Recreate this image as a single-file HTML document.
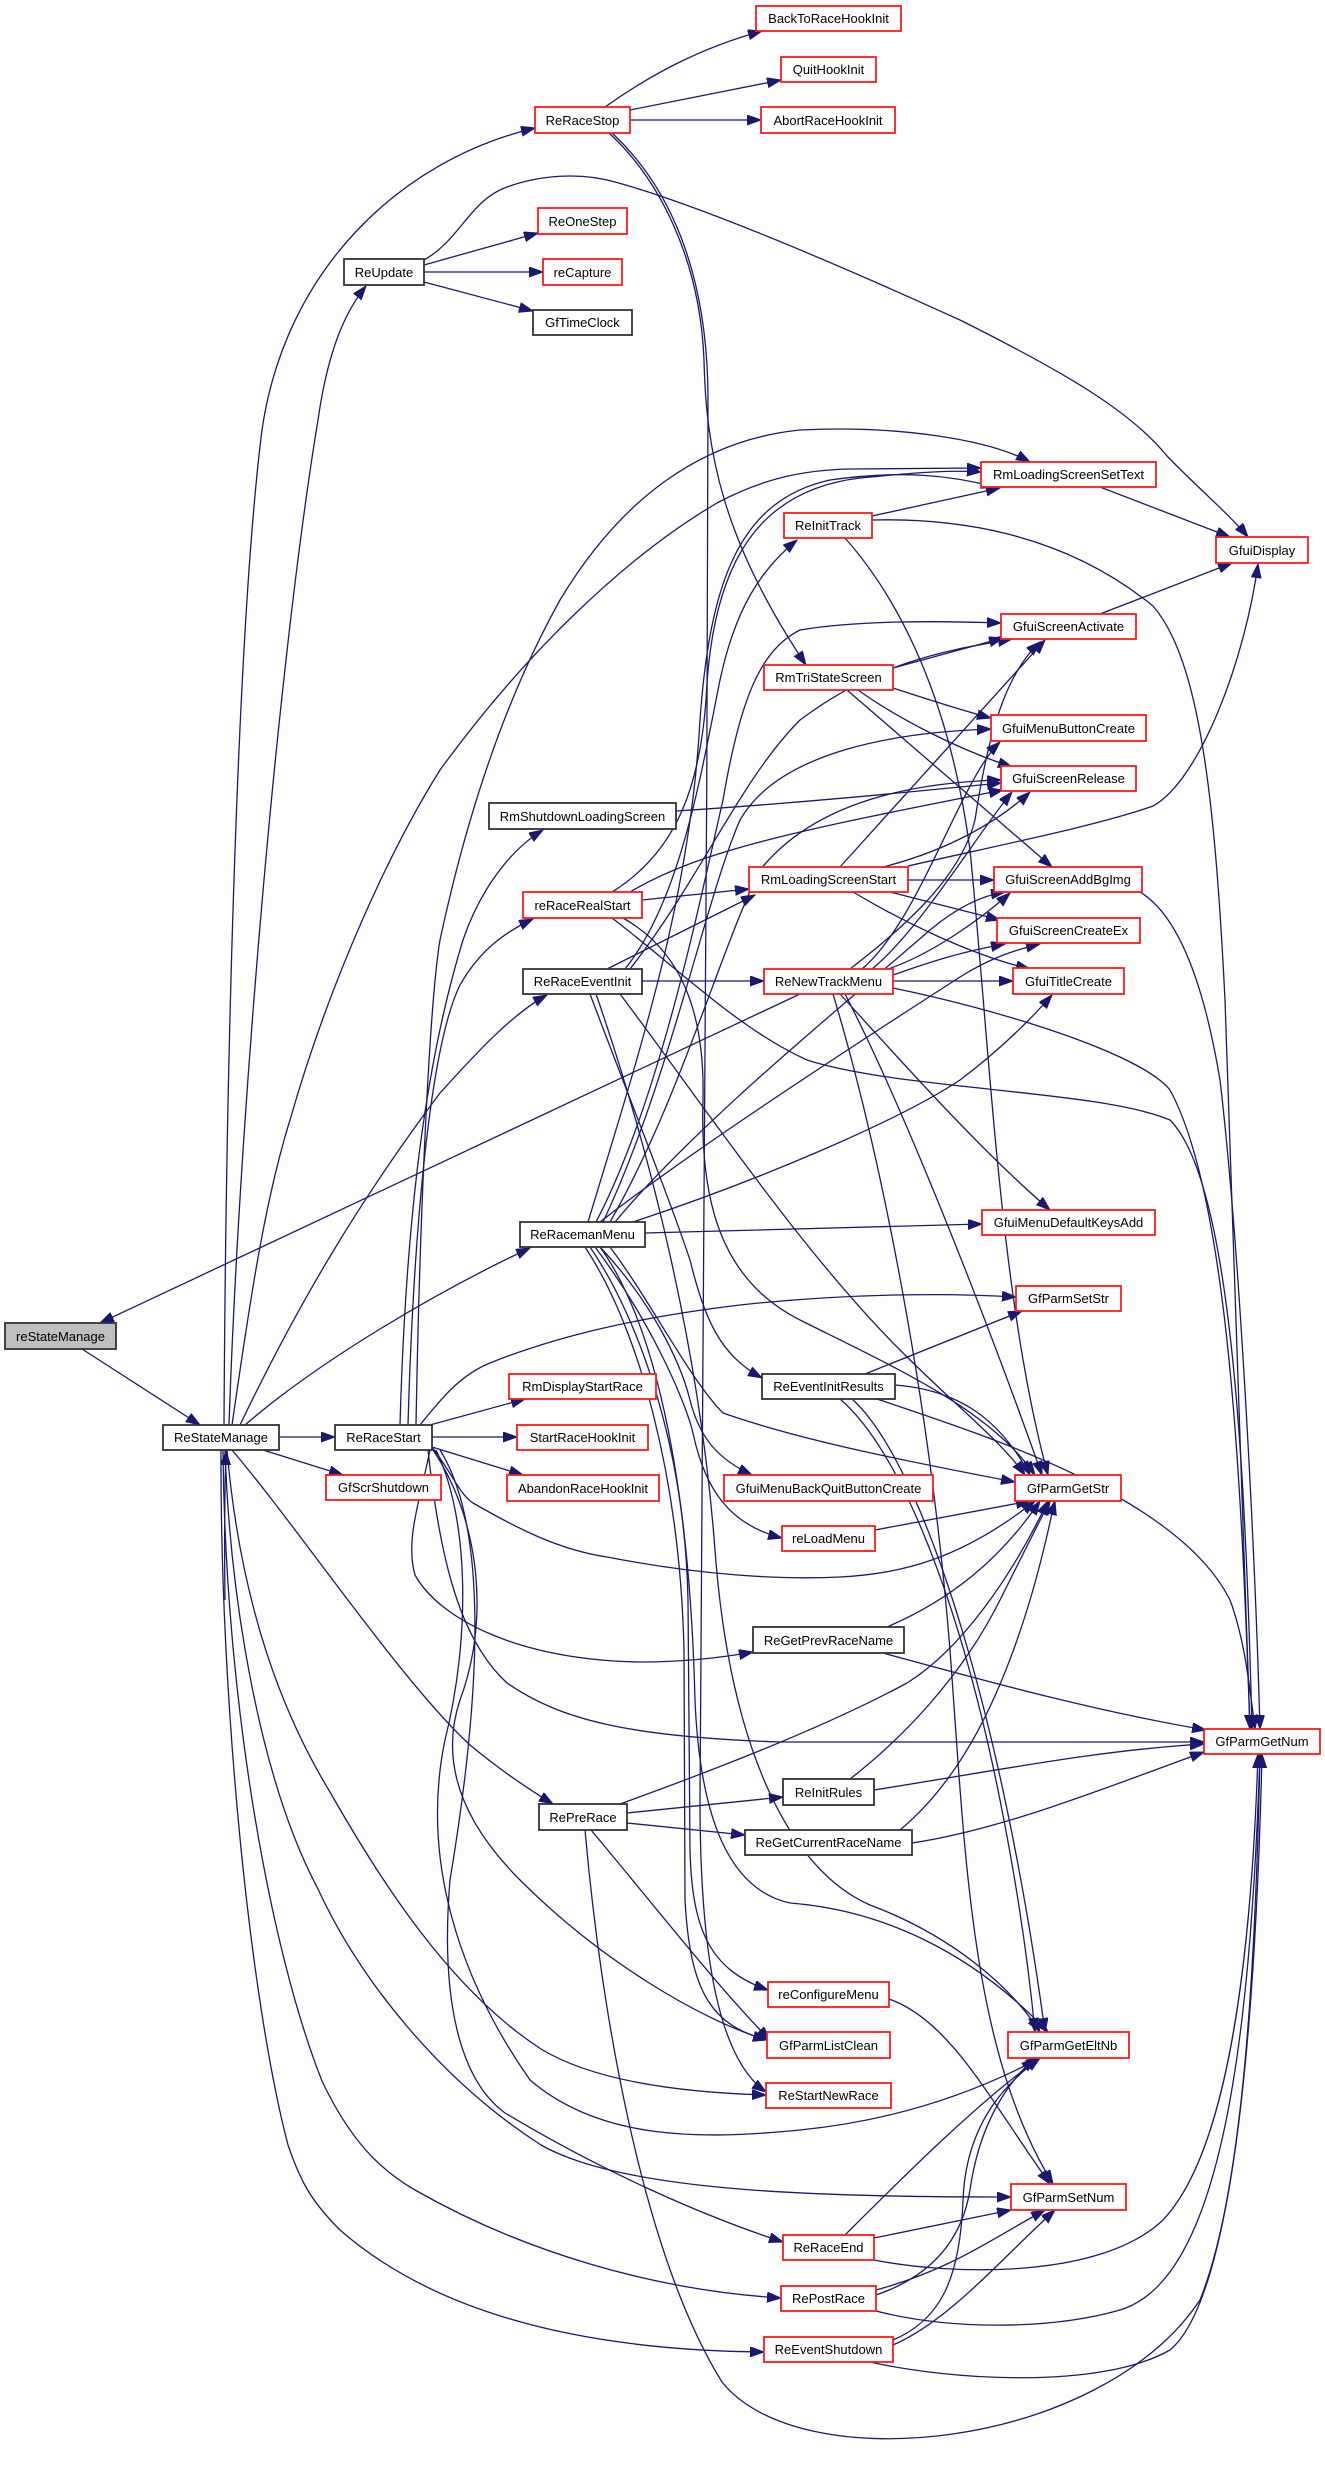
<!DOCTYPE html>
<html>
<head>
<meta charset="utf-8">
<style>
html,body{margin:0;padding:0;background:#fff;}
svg{display:block;}
.e path{fill:none;stroke:#191970;stroke-width:1.3;}
.n rect{fill:#fff;stroke-width:1.8;}
.r{stroke:#ff1a1a;}
.b{stroke:#333;}
text{font-family:"Liberation Sans",Arial,sans-serif;font-size:13px;fill:#000;text-anchor:middle;}
</style>
</head>
<body>
<svg width="1325" height="2476" viewBox="0 0 1325 2476" xmlns="http://www.w3.org/2000/svg">
<defs>
<marker id="ah" markerUnits="userSpaceOnUse" markerWidth="16" markerHeight="12" refX="14" refY="5" orient="auto">
<path d="M0,0 L14,5 L0,10 Z" fill="#191970" stroke="#191970" stroke-width="1"/>
</marker>
</defs>
<g class="e" marker-end="url(#ah)">
<path marker-end="url(#ah)" d="M 605,107 C 650,75 700,48 762,31"/>
<path marker-end="url(#ah)" d="M 630,110 L 781,80"/>
<path marker-end="url(#ah)" d="M 630,120 L 761,120"/>
<path marker-end="url(#ah)" d="M 609,133 C 660,180 700,260 704,360 C 706,450 722,540 806,665"/>
<path marker-end="url(#ah)" d="M 612,133 C 668,185 708,270 708,400 C 708,900 700,1500 700,1800 C 700,1960 720,2060 766,2092"/>
<path marker-end="url(#ah)" d="M 424,265 L 538,233"/>
<path marker-end="url(#ah)" d="M 424,272 L 543,272"/>
<path marker-end="url(#ah)" d="M 424,282 L 533,311"/>
<path marker-end="url(#ah)" d="M 424,260 C 460,240 470,200 507,187 C 540,175 580,172 615,182 C 700,205 850,270 960,320 C 1060,370 1130,410 1167,456 C 1200,490 1230,515 1248,537"/>
<path marker-end="url(#ah)" d="M 229,1425 C 240,1100 280,650 318,420 C 328,350 345,312 366,286"/>
<path marker-end="url(#ah)" d="M 224,1425 C 226,1050 238,620 262,430 C 285,270 400,160 535,128"/>
<path marker-end="url(#ah)" d="M 232,1425 C 250,1300 265,1200 290,1120 C 330,980 390,850 440,770 C 520,660 620,560 717,503 C 760,480 800,470 850,469 L 981,468"/>
<path marker-end="url(#ah)" d="M 240,1425 C 300,1300 360,1200 440,1093 C 470,1060 510,1015 547,995"/>
<path marker-end="url(#ah)" d="M 245,1425 C 320,1360 440,1290 530,1248"/>
<path marker-end="url(#ah)" d="M 279,1437 L 335,1437"/>
<path marker-end="url(#ah)" d="M 263,1450 L 343,1475"/>
<path marker-end="url(#ah)" d="M 232,1450 C 300,1530 400,1680 470,1745 C 500,1770 530,1790 553,1804"/>
<path marker-end="url(#ah)" d="M 227,1450 C 240,1600 280,1710 330,1792 C 380,1880 450,1990 541,2049 C 600,2085 700,2093 766,2095"/>
<path marker-end="url(#ah)" d="M 225,1450 C 230,1600 260,1780 318,1889 C 360,1980 440,2080 541,2145 C 620,2190 800,2197 1011,2197"/>
<path marker-end="url(#ah)" d="M 223,1450 C 225,1700 270,1950 322,2081 C 350,2140 380,2170 415,2190 C 520,2250 650,2290 781,2298"/>
<path marker-end="url(#ah)" d="M 221,1450 C 220,1700 250,2000 288,2145 C 300,2180 310,2200 340,2230 C 420,2300 550,2350 764,2352"/>
<path marker-end="url(#ah)" d="M 82,1349 L 200,1425"/>
<path marker-end="url(#ah)" d="M 800,994 L 100,1323"/>
<path marker-end="url(#ah)" d="M 400,1425 C 405,1250 420,1080 463,940 C 480,890 510,850 543,830"/>
<path marker-end="url(#ah)" d="M 408,1425 C 413,1250 428,1050 460,985 C 480,950 505,932 533,919"/>
<path marker-end="url(#ah)" d="M 416,1425 C 420,1200 430,1000 440,940 C 470,800 510,690 560,600 C 620,500 700,440 800,430 C 900,425 990,440 1030,462"/>
<path marker-end="url(#ah)" d="M 430,1425 L 525,1399"/>
<path marker-end="url(#ah)" d="M 432,1437 L 517,1437"/>
<path marker-end="url(#ah)" d="M 432,1447 L 523,1475"/>
<path marker-end="url(#ah)" d="M 420,1425 C 440,1400 460,1375 490,1363 C 560,1335 640,1317 740,1305 C 850,1293 950,1293 1016,1297"/>
<path marker-end="url(#ah)" d="M 432,1447 C 450,1470 460,1495 473,1503 C 520,1530 560,1550 607,1557 C 700,1575 780,1580 840,1577 C 900,1574 960,1560 1035,1501"/>
<path marker-end="url(#ah)" d="M 430,1450 C 420,1500 405,1540 415,1575 C 440,1620 520,1660 640,1662 C 680,1662 720,1658 753,1652"/>
<path marker-end="url(#ah)" d="M 428,1450 C 440,1560 460,1640 507,1683 C 560,1720 630,1737 780,1742 L 1204,1742"/>
<path marker-end="url(#ah)" d="M 433,1450 C 480,1520 490,1620 460,1700 C 440,1760 460,1820 520,1880 C 600,1960 700,2020 767,2040"/>
<path marker-end="url(#ah)" d="M 436,1450 C 470,1520 470,1640 445,1740 C 420,1860 460,1980 530,2080 C 600,2140 700,2140 800,2130 C 900,2120 980,2090 1040,2058"/>
<path marker-end="url(#ah)" d="M 440,1450 C 490,1530 480,1700 450,1880 C 440,2000 460,2080 505,2113 C 600,2170 700,2215 783,2242"/>
<path marker-end="url(#ah)" d="M 645,1233 L 982,1224"/>
<path marker-end="url(#ah)" d="M 633,1222 C 760,1180 900,1120 960,1080 C 1000,1050 1030,1020 1052,995"/>
<path marker-end="url(#ah)" d="M 600,1222 C 680,1160 800,1080 960,977 C 990,958 1015,950 1040,944"/>
<path marker-end="url(#ah)" d="M 615,1222 C 700,1120 850,1000 930,930 C 960,905 985,895 1005,892"/>
<path marker-end="url(#ah)" d="M 596,1222 C 660,1100 700,900 723,800 C 740,700 760,650 800,630 C 860,620 940,621 1001,623"/>
<path marker-end="url(#ah)" d="M 603,1222 C 670,1080 705,900 740,820 C 780,750 900,732 991,729"/>
<path marker-end="url(#ah)" d="M 610,1222 C 680,1100 720,950 760,870 C 820,795 930,782 1001,780"/>
<path marker-end="url(#ah)" d="M 588,1222 C 640,1050 690,900 700,720 C 710,580 740,500 830,480 C 900,470 950,475 995,487"/>
<path marker-end="url(#ah)" d="M 610,1247 C 650,1300 690,1380 723,1413 C 800,1440 900,1460 1015,1482"/>
<path marker-end="url(#ah)" d="M 600,1247 C 650,1300 680,1360 690,1400 C 700,1440 720,1460 752,1475"/>
<path marker-end="url(#ah)" d="M 595,1247 C 650,1320 685,1400 693,1433 C 705,1490 730,1525 782,1538"/>
<path marker-end="url(#ah)" d="M 590,1247 C 640,1320 685,1450 688,1600 L 690,1850 C 692,1930 710,1970 768,1990"/>
<path marker-end="url(#ah)" d="M 585,1247 C 640,1330 680,1480 684,1650 L 685,1900 C 690,1990 710,2025 767,2040"/>
<path marker-end="url(#ah)" d="M 600,1247 C 660,1330 690,1500 695,1700 C 700,1820 730,1890 790,1903 C 880,1910 970,1950 1048,2032"/>
<path marker-end="url(#ah)" d="M 642,981 L 764,981"/>
<path marker-end="url(#ah)" d="M 607,969 L 755,895"/>
<path marker-end="url(#ah)" d="M 625,969 C 680,900 700,780 720,680 C 735,610 760,570 797,540"/>
<path marker-end="url(#ah)" d="M 630,969 C 700,880 740,780 800,720 C 880,660 950,650 1012,639"/>
<path marker-end="url(#ah)" d="M 590,994 C 630,1100 670,1200 690,1260 C 705,1320 720,1355 762,1378"/>
<path marker-end="url(#ah)" d="M 596,994 C 650,1150 700,1350 715,1550 C 730,1750 790,1870 870,1905 C 950,1935 1010,1985 1040,2032"/>
<path marker-end="url(#ah)" d="M 620,994 C 700,1100 800,1250 900,1350 C 960,1410 1000,1440 1025,1475"/>
<path marker-end="url(#ah)" d="M 642,900 L 749,889"/>
<path marker-end="url(#ah)" d="M 612,892 C 680,850 700,780 706,700 C 712,560 760,490 860,478 C 920,472 955,470 981,472"/>
<path marker-end="url(#ah)" d="M 612,918 C 680,970 740,1030 807,1060 C 900,1090 1100,1090 1170,1120 C 1230,1180 1245,1450 1252,1729"/>
<path marker-end="url(#ah)" d="M 623,918 C 680,950 705,1010 703,1100 C 700,1200 720,1280 800,1320 C 900,1370 990,1410 1035,1475"/>
<path marker-end="url(#ah)" d="M 630,892 C 700,850 800,830 1003,790"/>
<path marker-end="url(#ah)" d="M 676,811 C 800,803 900,793 1001,783"/>
<path marker-end="url(#ah)" d="M 893,668 L 1003,638"/>
<path marker-end="url(#ah)" d="M 893,688 C 930,700 960,710 991,718"/>
<path marker-end="url(#ah)" d="M 858,690 C 900,720 960,750 1012,767"/>
<path marker-end="url(#ah)" d="M 847,690 L 1052,867"/>
<path marker-end="url(#ah)" d="M 872,516 L 1000,488"/>
<path marker-end="url(#ah)" d="M 872,520 C 950,518 1060,530 1153,606 C 1200,660 1215,800 1225,1000 C 1235,1300 1245,1550 1250,1729"/>
<path marker-end="url(#ah)" d="M 845,538 C 900,600 950,700 970,850 C 990,1050 1000,1300 1048,1475"/>
<path marker-end="url(#ah)" d="M 840,867 L 1045,640"/>
<path marker-end="url(#ah)" d="M 883,867 C 950,850 1000,820 1030,792"/>
<path marker-end="url(#ah)" d="M 908,880 L 994,880"/>
<path marker-end="url(#ah)" d="M 890,892 L 1000,920"/>
<path marker-end="url(#ah)" d="M 853,892 C 900,920 970,955 1030,969"/>
<path marker-end="url(#ah)" d="M 908,866 C 1000,845 1100,825 1153,806 C 1200,780 1245,660 1258,564"/>
<path marker-end="url(#ah)" d="M 850,969 C 900,930 960,880 975,820 C 990,720 1010,670 1040,642"/>
<path marker-end="url(#ah)" d="M 862,969 C 920,920 960,780 1000,742"/>
<path marker-end="url(#ah)" d="M 872,969 C 920,930 980,830 1012,792"/>
<path marker-end="url(#ah)" d="M 888,969 C 930,955 980,920 1010,893"/>
<path marker-end="url(#ah)" d="M 893,975 C 930,962 960,952 1005,944"/>
<path marker-end="url(#ah)" d="M 893,981 L 1013,981"/>
<path marker-end="url(#ah)" d="M 893,988 C 1000,1010 1140,1053 1170,1090 C 1230,1200 1242,1500 1250,1729"/>
<path marker-end="url(#ah)" d="M 840,994 C 900,1060 980,1150 1050,1210"/>
<path marker-end="url(#ah)" d="M 845,994 C 900,1100 980,1300 1042,1475"/>
<path marker-end="url(#ah)" d="M 833,994 C 880,1150 930,1400 950,1650 C 965,1850 970,2050 1053,2184"/>
<path marker-end="url(#ah)" d="M 865,1374 L 1022,1311"/>
<path marker-end="url(#ah)" d="M 895,1385 C 960,1390 1000,1420 1030,1475"/>
<path marker-end="url(#ah)" d="M 877,1399 C 1000,1440 1180,1500 1230,1600 C 1245,1640 1250,1690 1255,1729"/>
<path marker-end="url(#ah)" d="M 840,1399 C 900,1450 960,1600 1000,1800 C 1020,1900 1030,1980 1035,2032"/>
<path marker-end="url(#ah)" d="M 852,1399 C 920,1460 1000,1700 1045,2032"/>
<path marker-end="url(#ah)" d="M 875,1530 L 1030,1501"/>
<path marker-end="url(#ah)" d="M 887,1627 C 950,1600 1000,1560 1040,1501"/>
<path marker-end="url(#ah)" d="M 883,1653 C 1000,1685 1100,1712 1206,1730"/>
<path marker-end="url(#ah)" d="M 850,1779 C 900,1740 960,1680 1000,1600 C 1025,1550 1040,1520 1050,1501"/>
<path marker-end="url(#ah)" d="M 874,1790 C 1000,1770 1100,1750 1204,1744"/>
<path marker-end="url(#ah)" d="M 900,1830 C 960,1780 1000,1700 1030,1600 C 1045,1550 1050,1520 1055,1501"/>
<path marker-end="url(#ah)" d="M 912,1843 C 1000,1830 1100,1790 1204,1752"/>
<path marker-end="url(#ah)" d="M 627,1813 L 783,1797"/>
<path marker-end="url(#ah)" d="M 627,1823 L 745,1835"/>
<path marker-end="url(#ah)" d="M 620,1804 C 700,1775 820,1730 907,1683 C 960,1650 1010,1580 1048,1501"/>
<path marker-end="url(#ah)" d="M 591,1830 C 650,1900 720,1990 770,2040"/>
<path marker-end="url(#ah)" d="M 585,1830 C 600,2000 640,2250 722,2382 C 800,2480 1100,2450 1200,2300 C 1240,2200 1255,2000 1260,1754"/>
<path marker-end="url(#ah)" d="M 889,1999 C 950,2020 990,2100 1050,2184"/>
<path marker-end="url(#ah)" d="M 874,2238 L 1011,2210"/>
<path marker-end="url(#ah)" d="M 845,2235 C 900,2180 980,2100 1040,2058"/>
<path marker-end="url(#ah)" d="M 874,2260 C 950,2275 1100,2280 1163,2220 C 1220,2160 1250,2000 1258,1754"/>
<path marker-end="url(#ah)" d="M 876,2290 C 950,2270 990,2240 1045,2210"/>
<path marker-end="url(#ah)" d="M 876,2295 C 920,2280 960,2250 970,2190 C 980,2120 1010,2080 1035,2058"/>
<path marker-end="url(#ah)" d="M 876,2311 C 950,2330 1050,2330 1120,2310 C 1220,2280 1250,2050 1260,1754"/>
<path marker-end="url(#ah)" d="M 893,2345 C 950,2320 1000,2260 1055,2210"/>
<path marker-end="url(#ah)" d="M 893,2340 C 940,2320 960,2280 963,2200 C 966,2120 1010,2080 1040,2058"/>
<path marker-end="url(#ah)" d="M 870,2362 C 950,2380 1100,2390 1170,2350 C 1230,2300 1255,2050 1262,1754"/>
<path marker-end="url(#ah)" d="M 1140,892 C 1170,910 1200,960 1220,1080 C 1240,1250 1255,1550 1260,1729"/>
<path marker-end="url(#ah)" d="M 1100,487 L 1230,537"/>
<path marker-end="url(#ah)" d="M 1100,614 L 1232,563"/>
<path marker-end="url(#ah)" d="M 225,1600 C 224,1520 225,1480 226,1451"/>
</g>
<g class="n">
<rect class="r" x="756" y="6" width="145" height="25"/><text x="828.5" y="23">BackToRaceHookInit</text>
<rect class="r" x="781" y="57" width="95" height="25"/><text x="828.5" y="74">QuitHookInit</text>
<rect class="r" x="761" y="107" width="134" height="26"/><text x="828" y="125">AbortRaceHookInit</text>
<rect class="r" x="535" y="107" width="95" height="26"/><text x="582.5" y="125">ReRaceStop</text>
<rect class="r" x="538" y="208" width="89" height="26"/><text x="582.5" y="226">ReOneStep</text>
<rect class="b" x="344" y="259" width="80" height="26"/><text x="384" y="277">ReUpdate</text>
<rect class="r" x="543" y="259" width="79" height="26"/><text x="582.5" y="277">reCapture</text>
<rect class="b" x="533" y="310" width="99" height="25"/><text x="582.5" y="327">GfTimeClock</text>
<rect class="r" x="981" y="462" width="175" height="25"/><text x="1068.5" y="479">RmLoadingScreenSetText</text>
<rect class="r" x="1216" y="537" width="92" height="26"/><text x="1262" y="555">GfuiDisplay</text>
<rect class="r" x="784" y="513" width="88" height="25"/><text x="828" y="530">ReInitTrack</text>
<rect class="r" x="1001" y="614" width="135" height="25"/><text x="1068.5" y="631">GfuiScreenActivate</text>
<rect class="r" x="764" y="665" width="129" height="25"/><text x="828.5" y="682">RmTriStateScreen</text>
<rect class="r" x="991" y="715" width="155" height="26"/><text x="1068.5" y="733">GfuiMenuButtonCreate</text>
<rect class="r" x="1001" y="766" width="135" height="25"/><text x="1068.5" y="783">GfuiScreenRelease</text>
<rect class="b" x="489" y="803" width="187" height="26"/><text x="582.5" y="821">RmShutdownLoadingScreen</text>
<rect class="r" x="749" y="867" width="159" height="25"/><text x="828.5" y="884">RmLoadingScreenStart</text>
<rect class="r" x="994" y="867" width="148" height="25"/><text x="1068" y="884">GfuiScreenAddBgImg</text>
<rect class="r" x="523" y="892" width="119" height="26"/><text x="582.5" y="910">reRaceRealStart</text>
<rect class="r" x="997" y="918" width="143" height="25"/><text x="1068.5" y="935">GfuiScreenCreateEx</text>
<rect class="b" x="523" y="969" width="119" height="25"/><text x="582.5" y="986">ReRaceEventInit</text>
<rect class="r" x="764" y="969" width="129" height="25"/><text x="828.5" y="986">ReNewTrackMenu</text>
<rect class="r" x="1013" y="968" width="111" height="26"/><text x="1068.5" y="986">GfuiTitleCreate</text>
<rect class="r" x="982" y="1210" width="173" height="25"/><text x="1068.5" y="1227">GfuiMenuDefaultKeysAdd</text>
<rect class="b" x="520" y="1222" width="125" height="25"/><text x="582.5" y="1239">ReRacemanMenu</text>
<rect class="r" x="1016" y="1286" width="105" height="25"/><text x="1068.5" y="1303">GfParmSetStr</text>
<rect class="b" x="5" y="1323" width="111" height="26" style="fill:#bfbfbf"/><text x="60.5" y="1341">reStateManage</text>
<rect class="r" x="509" y="1374" width="147" height="25"/><text x="582.5" y="1391">RmDisplayStartRace</text>
<rect class="b" x="762" y="1374" width="133" height="25"/><text x="828.5" y="1391">ReEventInitResults</text>
<rect class="b" x="163" y="1425" width="116" height="25"/><text x="221" y="1442">ReStateManage</text>
<rect class="b" x="335" y="1425" width="97" height="25"/><text x="383.5" y="1442">ReRaceStart</text>
<rect class="r" x="517" y="1425" width="131" height="25"/><text x="582.5" y="1442">StartRaceHookInit</text>
<rect class="r" x="326" y="1475" width="115" height="25"/><text x="383.5" y="1492">GfScrShutdown</text>
<rect class="r" x="507" y="1475" width="152" height="26"/><text x="583" y="1493">AbandonRaceHookInit</text>
<rect class="r" x="724" y="1475" width="209" height="26"/><text x="828.5" y="1493">GfuiMenuBackQuitButtonCreate</text>
<rect class="r" x="1015" y="1475" width="106" height="26"/><text x="1068" y="1493">GfParmGetStr</text>
<rect class="r" x="782" y="1526" width="93" height="25"/><text x="828.5" y="1543">reLoadMenu</text>
<rect class="b" x="753" y="1627" width="151" height="26"/><text x="828.5" y="1645">ReGetPrevRaceName</text>
<rect class="r" x="1204" y="1729" width="116" height="25"/><text x="1262" y="1746">GfParmGetNum</text>
<rect class="b" x="783" y="1779" width="91" height="26"/><text x="828.5" y="1797">ReInitRules</text>
<rect class="b" x="539" y="1804" width="88" height="26"/><text x="583" y="1822">RePreRace</text>
<rect class="b" x="745" y="1830" width="167" height="25"/><text x="828.5" y="1847">ReGetCurrentRaceName</text>
<rect class="r" x="768" y="1982" width="121" height="25"/><text x="828.5" y="1999">reConfigureMenu</text>
<rect class="r" x="767" y="2032" width="123" height="26"/><text x="828.5" y="2050">GfParmListClean</text>
<rect class="r" x="1008" y="2032" width="121" height="26"/><text x="1068.5" y="2050">GfParmGetEltNb</text>
<rect class="r" x="766" y="2083" width="125" height="25"/><text x="828.5" y="2100">ReStartNewRace</text>
<rect class="r" x="1011" y="2184" width="115" height="26"/><text x="1068.5" y="2202">GfParmSetNum</text>
<rect class="r" x="783" y="2235" width="91" height="25"/><text x="828.5" y="2252">ReRaceEnd</text>
<rect class="r" x="781" y="2286" width="95" height="25"/><text x="828.5" y="2303">RePostRace</text>
<rect class="r" x="764" y="2337" width="129" height="25"/><text x="828.5" y="2354">ReEventShutdown</text>
</g>
</svg>
</body>
</html>
